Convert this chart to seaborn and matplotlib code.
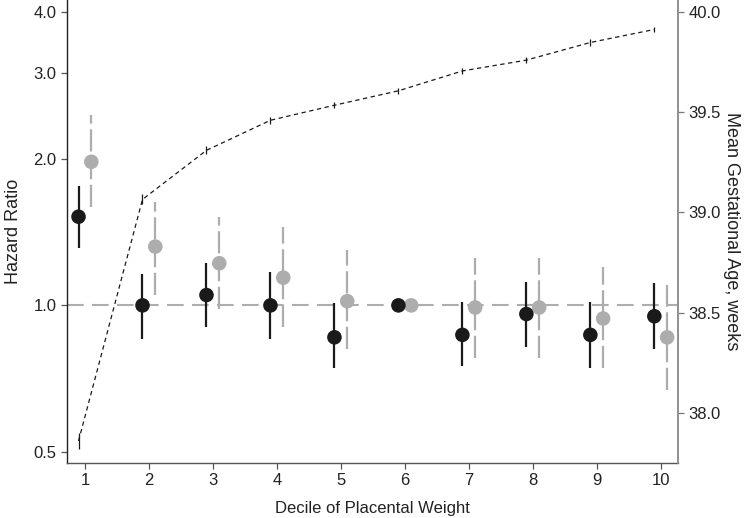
import numpy as np
import pandas as pd
import matplotlib
matplotlib.use("Agg")
import matplotlib.pyplot as plt
import seaborn as sns

# ---- data ----
deciles = [1, 2, 3, 4, 5, 6, 7, 8, 9, 10]

hr_black = [1.52, 1.00, 1.05, 1.00, 0.86, 1.00, 0.87, 0.96, 0.87, 0.95]
hr_black_lo = [1.31, 0.853, 0.903, 0.853, 0.744, 1.00, 0.751, 0.821, 0.744, 0.814]
hr_black_hi = [1.757, 1.16, 1.222, 1.171, 1.011, 1.00, 1.016, 1.117, 1.016, 1.111]

hr_gray = [1.97, 1.32, 1.22, 1.14, 1.02, 1.00, 0.99, 0.99, 0.94, 0.86]
hr_gray_lo = [1.592, 1.05, 0.983, 0.903, 0.814, 1.00, 0.78, 0.78, 0.744, 0.67]
hr_gray_hi = [2.458, 1.63, 1.518, 1.448, 1.299, 1.00, 1.251, 1.25, 1.199, 1.10]

ga_mean = [37.86, 39.065, 39.31, 39.46, 39.535, 39.607, 39.706, 39.76, 39.848, 39.913]
ga_err = [0.04, 0.025, 0.02, 0.018, 0.016, 0.016, 0.015, 0.015, 0.016, 0.014]

left_ticks = [0.5, 1.0, 2.0, 3.0, 4.0]
left_ticklabels = ["0.5", "1.0", "2.0", "3.0", "4.0"]
right_ticks = [38.0, 38.5, 39.0, 39.5, 40.0]

# ---- style ----
sns.set_theme(style="ticks")
plt.rcParams['font.family'] = ['Liberation Sans', 'DejaVu Sans']
txt = "#222222"

fig = plt.figure(figsize=(7.51, 5.18), dpi=100)
ax = fig.add_axes([67/751, 55/518, (678-67)/751, 463/518])
ax2 = ax.twinx()

black = "#1a1a1a"
gray = "#adadad"
off = 0.1

df = pd.DataFrame({
    "decile": deciles,
    "hr_black": hr_black, "b_lo": hr_black_lo, "b_hi": hr_black_hi,
    "hr_gray": hr_gray, "g_lo": hr_gray_lo, "g_hi": hr_gray_hi,
    "ga": ga_mean, "ga_err": ga_err,
})
df["xb"] = df["decile"] - off
df["xg"] = df["decile"] + off

ax.set_yscale("log")

# reference line
ax.axhline(1.0, color=gray, lw=1.5, dashes=(8, 4), zorder=1)

# error bars
ax.vlines(df["xb"], df["b_lo"], df["b_hi"], color=black, lw=1.6, zorder=2)
ax.vlines(df["xg"], df["g_lo"], df["g_hi"], color=gray, lw=1.6,
          linestyles=(0, (10, 2.5)), zorder=2)

sns.scatterplot(data=df, x="xb", y="hr_black", ax=ax, color=black, s=110,
                edgecolor="none", zorder=4, legend=False)
sns.scatterplot(data=df, x="xg", y="hr_gray", ax=ax, color=gray, s=110,
                edgecolor="none", zorder=3, legend=False)

ax.set_xlim(0.72, 10.27)
ax.set_ylim(0.475, 4.23)
ax.yaxis.set_major_locator(matplotlib.ticker.FixedLocator(left_ticks))
ax.yaxis.set_major_formatter(matplotlib.ticker.FixedFormatter(left_ticklabels))
ax.yaxis.set_minor_locator(matplotlib.ticker.NullLocator())
ax.set_xticks(deciles)
ax.set_xticklabels([str(d) for d in deciles])

# gestational age line
sns.lineplot(data=df, x="xb", y="ga", ax=ax2, color=black, lw=0.9,
             dashes=False, legend=False)
ax2.lines[-1].set_dashes((3.5, 2.8))
ax2.vlines(df["xb"], df["ga"] - df["ga_err"], df["ga"] + df["ga_err"],
           color=black, lw=0.9)
ax2.set_ylim(37.75, 40.06)
ax2.set_yticks(right_ticks)
ax2.set_yticklabels([f"{v:.1f}" for v in right_ticks])

# labels
ax.set_xlabel("Decile of Placental Weight", fontsize=12, color=txt, labelpad=9)
ax.set_ylabel("Hazard Ratio", fontsize=13, color=txt, labelpad=8)
ax2.set_ylabel("Mean Gestational Age, weeks", fontsize=13, color=txt,
               rotation=270, labelpad=14)

for a in (ax, ax2):
    a.tick_params(labelsize=12, colors=txt, length=4, width=0.9)
    a.spines["top"].set_visible(False)
ax.tick_params(axis="both", color="#555555")
ax2.tick_params(axis="y", color="#777777")
ax.spines["left"].set_color("#222222")
ax.spines["bottom"].set_color("#555555")
ax.spines["right"].set_visible(False)
ax2.spines["left"].set_visible(False)
ax2.spines["bottom"].set_visible(False)
ax2.spines["right"].set_color("#888888")
for s in ("left", "bottom"):
    ax.spines[s].set_linewidth(1.0)
ax2.spines["right"].set_linewidth(1.3)
ax2.set_xlabel("")

fig.savefig("out.png", dpi=100)
